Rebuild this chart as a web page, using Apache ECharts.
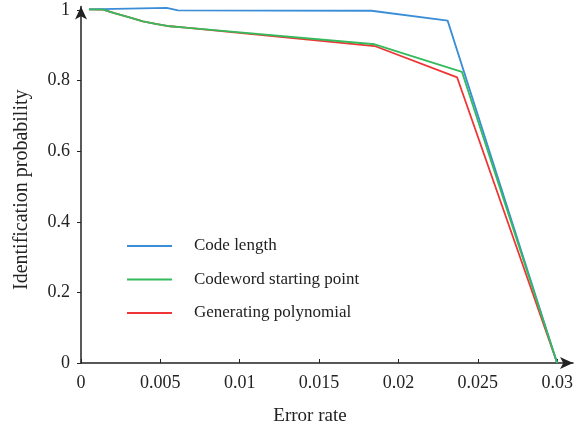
<!DOCTYPE html>
<html>
<head>
<meta charset="utf-8">
<script src="https://cdn.jsdelivr.net/npm/echarts@6/dist/echarts.min.js"></script>
<style>html,body{margin:0;padding:0;background:#fff}#c{width:580px;height:425px}</style>
</head>
<body>
<div id="c"></div>
<script>
var seriesNames = ['Code length', 'Codeword starting point', 'Generating polynomial'];
var codeLengthX = [0.0005, 0.0054, 0.0061, 0.0183, 0.0231, 0.0300];
var codeLengthY = [1.002, 1.006, 0.999, 0.998, 0.970, 0.000];
var startPointX = [0.0005, 0.0014, 0.0021, 0.0030, 0.0039, 0.0047, 0.0056, 0.0066, 0.0185, 0.0240, 0.0300];
var startPointY = [1.002, 1.001, 0.991, 0.980, 0.968, 0.961, 0.954, 0.950, 0.903, 0.825, 0.000];
var polyX = [0.0005, 0.0014, 0.0021, 0.0030, 0.0039, 0.0047, 0.0056, 0.0066, 0.0185, 0.0237, 0.0300];
var polyY = [1.002, 1.001, 0.991, 0.980, 0.968, 0.961, 0.954, 0.950, 0.898, 0.809, 0.000];
var xTicks = {min: 0, max: 0.031, interval: 0.005};
var yTicks = {min: 0, max: 1.01, interval: 0.2};
var colors = ['#3a8dd6', '#33bb5c', '#ef3535'];

function pairs(xs, ys) { return xs.map(function (x, i) { return [x, ys[i]]; }); }

var font = 'Liberation Serif';
var chart = echarts.init(document.getElementById('c'));
chart.setOption({
  animation: false,
  color: colors,
  grid: {left: 81, right: 7, top: 6.5, bottom: 62, containLabel: false, outerBoundsMode: 'none'},
  legend: {
    orient: 'vertical', left: 122, top: 232,
    icon: 'rect', itemWidth: 45, itemHeight: 2, itemGap: 15.5,
    textStyle: {fontFamily: font, fontSize: 17, color: '#222', lineHeight: 18, padding: [0, 0, 0, 17]},
    data: seriesNames
  },
  xAxis: {
    type: 'value', min: xTicks.min, max: xTicks.max, interval: xTicks.interval,
    name: 'Error rate', nameLocation: 'middle', nameGap: 44,
    nameTextStyle: {fontFamily: font, fontSize: 19, color: '#222', padding: [0, 34, 0, 0]},
    axisLine: {lineStyle: {color: '#222', width: 1.5}, symbol: ['none', 'arrow'], symbolSize: [9, 13]},
    axisTick: {inside: true, length: 4, lineStyle: {color: '#222'}},
    axisLabel: {fontFamily: font, fontSize: 18, color: '#222', margin: 11, showMaxLabel: false},
    splitLine: {show: false}
  },
  yAxis: {
    type: 'value', min: yTicks.min, max: yTicks.max, interval: yTicks.interval,
    name: 'Identification probability', nameLocation: 'middle', nameGap: 49, nameRotate: 90,
    nameTextStyle: {fontFamily: font, fontSize: 20, color: '#222', padding: [0, 10, 0, 0]},
    axisLine: {lineStyle: {color: '#222', width: 1.5}, symbol: ['none', 'arrow'], symbolSize: [9, 13]},
    axisTick: {inside: false, length: 4, lineStyle: {color: '#222'}},
    axisLabel: {fontFamily: font, fontSize: 18, color: '#222', margin: 11, showMaxLabel: false},
    splitLine: {show: false}
  },
  series: [
    {name: seriesNames[0], type: 'line', symbol: 'none', lineStyle: {width: 1.8}, data: pairs(codeLengthX, codeLengthY), z: 3},
    {name: seriesNames[1], type: 'line', symbol: 'none', lineStyle: {width: 1.8}, data: pairs(startPointX, startPointY), z: 4},
    {name: seriesNames[2], type: 'line', symbol: 'none', lineStyle: {width: 1.8}, data: pairs(polyX, polyY), z: 2}
  ]
});
</script>
</body>
</html>
